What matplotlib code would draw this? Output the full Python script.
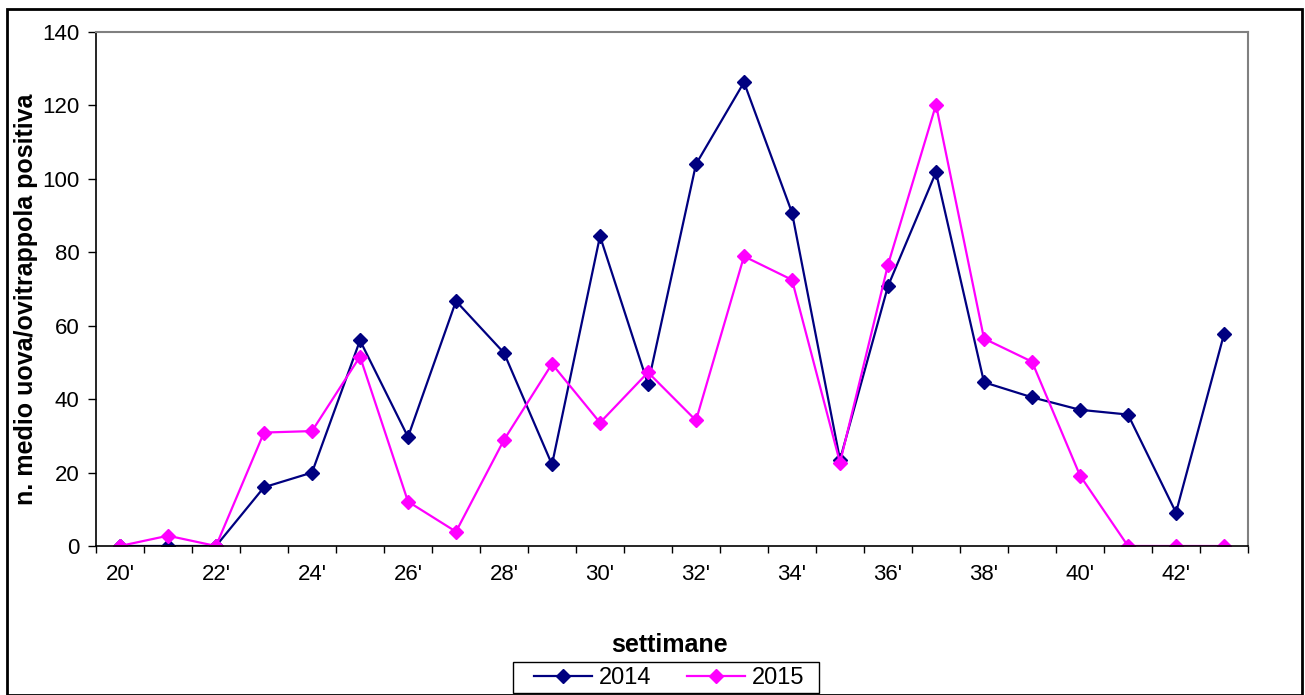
import numpy as np
import matplotlib
matplotlib.use('Agg')
import matplotlib.pyplot as plt
from matplotlib.patches import Rectangle

plt.rcParams['font.family'] = ['Liberation Sans', 'DejaVu Sans']

# weeks and mean eggs per positive ovitrap
weeks = list(range(20, 44))
eggs_2014 = [0, 0, 0, 16, 20, 56, 29.7, 66.7, 52.6, 22.2, 84.4, 44.1,
             104, 126.3, 90.8, 23.5, 70.8, 101.8, 44.6, 40.5, 37.1, 35.8, 9.1, 57.7]
eggs_2015 = [0, 2.8, 0, 30.9, 31.3, 51.6, 12.1, 3.9, 28.9, 49.6, 33.6, 47.3,
             34.2, 78.9, 72.5, 22.7, 76.6, 120.2, 56.5, 50.2, 19.2, 0, 0, 0]
tick_labels = [f"{w}'" if w % 2 == 0 else '' for w in weeks]

fig = plt.figure(figsize=(13.05, 6.95), dpi=100)
W, H = 1305, 695
ax = fig.add_axes([96 / W, 1 - 546 / H, (1248 - 96) / W, (546 - 32) / H])

x = np.arange(len(weeks))
ax.plot(x, eggs_2014, color='#000080', lw=1.6, marker='D', ms=7, label='2014')
ax.plot(x, eggs_2015, color='#FF00FF', lw=1.6, marker='D', ms=7, label='2015')

ax.set_xlim(-0.5, len(weeks) - 0.5)
ax.set_ylim(0, 140)
ax.set_yticks(range(0, 141, 20))
ax.set_xticks(np.arange(-0.5, len(weeks)), labels=[''] * (len(weeks) + 1))
ax.set_xticks(x, labels=tick_labels, minor=True)
ax.tick_params(axis='x', which='major', direction='out', length=5, width=1, color='black')
ax.tick_params(axis='x', which='minor', length=0, labelsize=16, pad=13)
ax.tick_params(axis='y', direction='out', length=5.5, width=1, labelsize=16, pad=6.5)

for side in ['top', 'right']:
    ax.spines[side].set_color('#808080')
    ax.spines[side].set_linewidth(1.5)
for side in ['left', 'bottom']:
    ax.spines[side].set_color('black')
    ax.spines[side].set_linewidth(1.2)

ax.set_ylabel('n. medio uova/ovitrappola positiva', fontsize=18, fontweight='bold')
ax.yaxis.set_label_coords((38 - 96) / 1152, (546 - 299) / 514)
fig.text(669 / W, 1 - 652 / H, 'settimane', fontsize=18, fontweight='bold',
         ha='center', va='baseline')

leg = fig.legend(loc='center', bbox_to_anchor=(669 / W, 1 - 678 / H), ncol=2,
                 fontsize=17, frameon=False, handlelength=2.45, columnspacing=1.5,
                 borderpad=0.1, handletextpad=0.3, borderaxespad=0)

# legend box
fig.patches.append(Rectangle((513 / W, 1 - 693 / H), (819 - 513) / W, (693 - 662) / H,
                             transform=fig.transFigure, fill=False,
                             edgecolor='black', linewidth=1.0))

# outer chart border
fig.patches.append(Rectangle((7 / W, 0), (1302 - 7) / W, 1 - 9 / H, transform=fig.transFigure,
                             fill=False, edgecolor='black', linewidth=2))

fig.savefig('out.png', dpi=100)
